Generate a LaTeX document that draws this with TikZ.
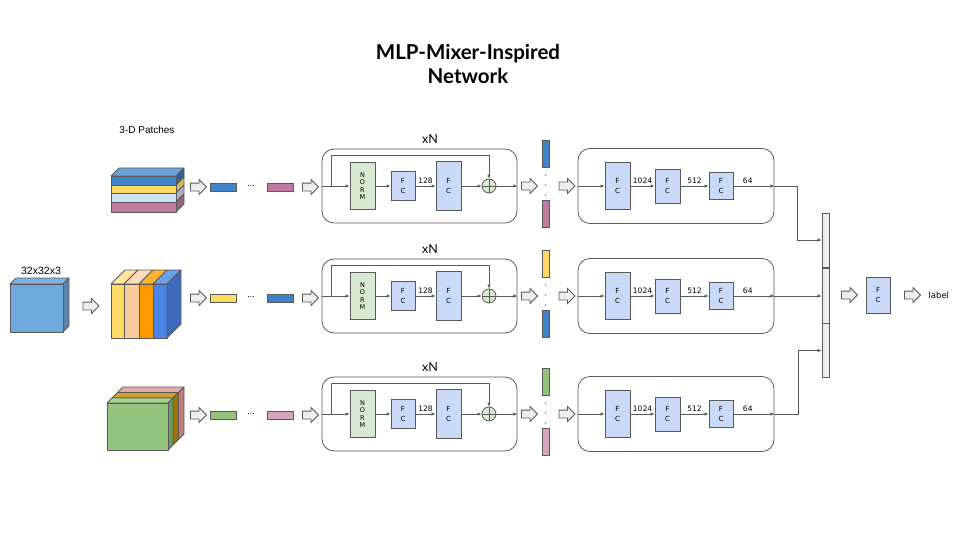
\documentclass[tikz,border=0pt]{standalone}
\usepackage{fontspec}
\setmainfont{Liberation Sans}
\newfontfamily\headfont{Lato}
\newfontfamily\boxfont{DejaVu Sans}
\usetikzlibrary{shapes.arrows, arrows.meta}
\definecolor{linegray}{HTML}{595959}
\definecolor{fcblue}{HTML}{C9DAF8}
\definecolor{normgreen}{HTML}{D9EAD3}
\definecolor{arrowgray}{HTML}{EEEEEE}
\definecolor{barblue}{HTML}{3D85C6}
\definecolor{barpink}{HTML}{C27BA0}
\definecolor{baryellow}{HTML}{FFD966}
\definecolor{bargreen}{HTML}{93C47D}
\definecolor{barrose}{HTML}{D5A6BD}
\definecolor{lightblue}{HTML}{CFE2F3}
\definecolor{imgfront}{HTML}{6FA8DC}
\definecolor{imgtop}{HTML}{7FB2E0}
\definecolor{imgside}{HTML}{5B84AD}
\definecolor{rowtop}{HTML}{6AA3D9}
\definecolor{peach}{HTML}{F9CB9C}
\definecolor{peachtop}{HTML}{FCDCBB}
\definecolor{orange}{HTML}{FF9900}
\definecolor{orangetop}{HTML}{FFB133}
\definecolor{colblue}{HTML}{4A86E8}
\definecolor{colbluetop}{HTML}{6D9EEB}
\definecolor{colblueside}{HTML}{3C6BBD}
\definecolor{greentop}{HTML}{A9D18E}
\definecolor{greenside}{HTML}{6D9A57}
\definecolor{olivetop}{HTML}{CCA32B}
\definecolor{oliveside}{HTML}{9C7500}
\definecolor{rosetop}{HTML}{EAA9A9}
\definecolor{roseside}{HTML}{C27C7C}
\tikzstyle{block}=[draw=linegray,line width=.8pt,rectangle,inner sep=0pt]
\tikzstyle{fc}=[block,fill=fcblue,minimum width=24pt,align=center,
  font=\boxfont\fontsize{7}{10}\selectfont]
\tikzstyle{norm}=[fc,fill=normgreen,font=\boxfont\fontsize{6.5}{7.5}\selectfont]
\tikzstyle{vec}=[block,minimum width=26pt,minimum height=8pt]
\tikzstyle{col}=[block,minimum width=7pt,minimum height=27pt]
\tikzstyle{bigarrow}=[draw=linegray,fill=arrowgray,line width=.8pt,single arrow,
  minimum height=16pt,single arrow head extend=3.5pt,
  single arrow tip angle=90,inner xsep=0pt,inner ysep=3.5pt]
\tikzstyle{mixer}=[draw=linegray,line width=.8pt,rounded corners=12pt,rectangle]
\tikzstyle{dim}=[font=\boxfont\fontsize{7.5}{9}\selectfont,inner sep=1.5pt]
\tikzstyle{face}=[draw=linegray,line width=.8pt,line join=round]
\tikzstyle{wire}=[draw=linegray,line width=.8pt]

\begin{document}
\begin{tikzpicture}[x=1pt,y=-1pt,>={Latex[length=4pt,width=3.5pt]}]
  \useasboundingbox (0,0) rectangle (960,540);
  \node[font=\headfont\bfseries\fontsize{20.5}{24}\selectfont,align=center]
    (title) at (468,64) {MLP-Mixer-Inspired\\Network};
  \node[font=\fontsize{10}{12}\selectfont] (patches) at (147,130) {3-D Patches};
  \node[font=\fontsize{10.5}{12}\selectfont] (size) at (41,271) {32x32x3};

  % input image
  \filldraw[face,fill=imgtop] (10,284) -- (16,278) -- (69,278) -- (63,284) -- cycle;
  \filldraw[face,fill=imgside] (63,284) -- (69,278) -- (69,326) -- (63,332) -- cycle;
  \filldraw[face,fill=imgfront] (10,284) rectangle (63,332);
  \node[bigarrow] (in) at (89,306) {};

  % patches split along rows
  \filldraw[face,fill=rowtop] (111,176) -- (119,168) -- (184,168) -- (176,176) -- cycle;
  \foreach \a/\b/\cf/\cs in {176/185/barblue/barblue!75!black,
      185/193/baryellow/baryellow!85!black,193/202/lightblue/lightblue!80!black,
      202/212/barpink/barpink!80!black}{
    \filldraw[face,fill=\cs] (176,\a) -- (184,\a-8) -- (184,\b-8) -- (176,\b) -- cycle;
    \filldraw[face,fill=\cf] (111,\a) rectangle (176,\b);
  }

  % patches split along columns
  \foreach \a/\b/\cf/\ct in {111/124/baryellow/baryellow!65!white,124/139/peach/peachtop,
      139/153/orange/orangetop,153/167/colblue/colbluetop}{
    \filldraw[face,fill=\ct] (\a,284) -- (\a+14,270) -- (\b+14,270) -- (\b,284) -- cycle;
    \filldraw[face,fill=\cf] (\a,284) rectangle (\b,338);
  }
  \filldraw[face,fill=colblueside] (167,284) -- (181,270) -- (181,324) -- (167,338) -- cycle;

  % patches split along channels
  \foreach \d/\e/\ct/\cs in {10.5/16/rosetop/roseside,5/10.5/olivetop/oliveside,
      0/5/greentop/greenside}{
    \filldraw[face,fill=\ct] (107+\d,403-\d) -- (107+\e,403-\e) -- (168+\e,403-\e) -- (168+\d,403-\d) -- cycle;
    \filldraw[face,fill=\cs] (168+\d,403-\d) -- (168+\e,403-\e) -- (168+\e,450-\e) -- (168+\d,450-\d) -- cycle;
  }
  \filldraw[face,fill=bargreen] (107,403) rectangle (168,450);

  % three mixer pipelines
  \foreach \y/\r/\ca/\cb/\ya in {186/a/barblue/barpink/187,296/b/baryellow/barblue/298,
      414/c/bargreen/barrose/415}{
    \node[bigarrow] (arr1\r) at (196.5,\ya) {};
    \node[vec,fill=\ca] (first\r) at (223.5,\ya) {};
    \node[font=\fontsize{9}{10}\selectfont] (dots\r) at (251,\ya-1) {...};
    \node[vec,fill=\cb] (last\r) at (280.5,\ya) {};
    \node[bigarrow] (arr2\r) at (308.5,\ya) {};

    \node[mixer,minimum width=195pt,minimum height=74pt] (mix\r) at (419.5,\y) {};
    \node[font=\headfont\fontsize{12.5}{14}\selectfont] (rep\r) at (430,\y-47) {xN};
    \node[norm,minimum width=25pt,minimum height=47pt] (norm\r) at (362.5,\y) {N\\O\\R\\M};
    \node[fc,minimum height=29pt] (fcone\r) at (403,\y) {F\\C};
    \node[fc,minimum width=25pt,minimum height=49pt] (fctwo\r) at (448.5,\y) {F\\C};
    \node[draw=linegray,line width=.8pt,fill=normgreen,circle,minimum size=14pt,inner sep=0pt]
      (plus\r) at (489,\y) {};
    \draw[wire] (plus\r.north) -- (plus\r.south) (plus\r.west) -- (plus\r.east);
    \coordinate (split\r) at (331,\y);
    \draw[wire,->] (mix\r.west) -- (norm\r);
    \draw[wire,->] (split\r) -- ++(0,-31) -| (plus\r.north);
    \draw[wire,->] (norm\r) -- (fcone\r);
    \draw[wire,->] (fcone\r) -- node[dim,above] {128} (fctwo\r);
    \draw[wire,->] (fctwo\r) -- (plus\r);
    \draw[wire,->] (plus\r) -- (mix\r.east);

    \node[bigarrow] (arr3\r) at (527.5,\y) {};
    \node[col,fill=\ca] (top\r) at (545.5,\y-32) {};
    \node[col,fill=\cb] (bot\r) at (545.5,\y+28) {};
    \fill[linegray!70] (545.5,\y-11) circle (.8) (545.5,\y-1) circle (.8) (545.5,\y+9) circle (.8);
    \node[bigarrow] (arr4\r) at (565,\y) {};

    \node[mixer,minimum width=196pt,minimum height=75pt] (mlp\r) at (676,\y) {};
    \node[fc,minimum width=25pt,minimum height=47pt] (fca\r) at (617.5,\y) {F\\C};
    \node[fc,minimum width=25pt,minimum height=34pt] (fcb\r) at (667.5,\y) {F\\C};
    \node[fc,minimum height=27pt] (fcc\r) at (721,\y) {F\\C};
    \draw[wire,->] (mlp\r.west) -- (fca\r);
    \draw[wire,->] (fca\r) -- node[dim,above] {1024} (fcb\r);
    \draw[wire,->] (fcb\r) -- node[dim,above] {512} (fcc\r);
    \draw[wire,->] (fcc\r) -- node[dim,above,pos=.35] {64} (mlp\r.east);
  }

  % concatenation and classifier
  \node[block,fill=arrowgray,minimum width=7pt,minimum height=54pt] (cat1) at (825.5,240) {};
  \node[block,fill=arrowgray,minimum width=7pt,minimum height=55pt] (cat2) at (825.5,296) {};
  \node[block,fill=arrowgray,minimum width=7pt,minimum height=54pt] (cat3) at (825.5,350.5) {};
  \draw[wire,->] (mlpa.east) -- ++(23,0) |- (cat1);
  \draw[wire,->] (mlpb.east) -- (cat2);
  \draw[wire,->] (mlpc.east) -- ++(24,0) |- (cat3);
  \node[bigarrow] (arr5) at (847.5,295) {};
  \node[fc,minimum height=36pt] (head) at (878,295) {F\\C};
  \node[bigarrow] (arr6) at (910.5,295) {};
  \node[font=\boxfont\fontsize{8.5}{10}\selectfont,anchor=west] (label) at (925,295) {label};
\end{tikzpicture}
\end{document}
